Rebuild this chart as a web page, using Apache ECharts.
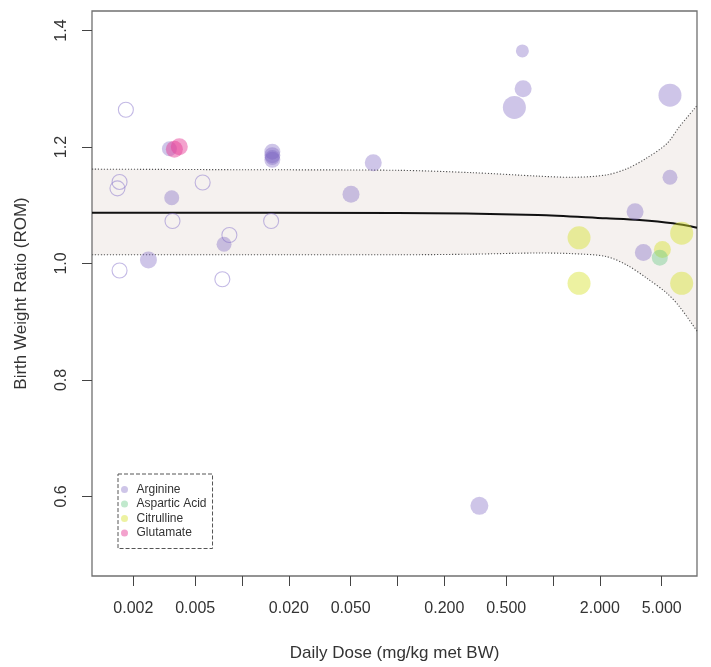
<!DOCTYPE html>
<html><head><meta charset="utf-8">
<script src="https://cdn.jsdelivr.net/npm/echarts@6/dist/echarts.min.js"></script>
<style>html,body{margin:0;padding:0;background:#fff}#c{width:711px;height:667px}</style>
</head><body><div id="c"></div>
<script>
// ---- tick marks / labels ----
const xTicks = [0.002, 0.005, 0.01, 0.02, 0.05, 0.1, 0.2, 0.5, 1, 2, 5];
const xTickLabels = [0.002, 0.005, 0.02, 0.05, 0.2, 0.5, 2, 5];
const yTicks = [0.6, 0.8, 1.0, 1.2, 1.4];

// ---- studies: [dose, ratio, weight] ----
const arginine = [
  [0.00341, 1.197, 15], [0.00353, 1.113, 15], [0.0025, 1.006, 17], [0.00766, 1.033, 15],
  [0.01566, 1.192, 16], [0.01566, 1.186, 16], [0.01566, 1.182, 15], [0.01566, 1.178, 16],
  [0.0502, 1.119, 17], [0.0698, 1.173, 17], [0.336, 0.584, 18], [0.564, 1.268, 23],
  [0.635, 1.365, 13], [0.642, 1.300, 17], [3.37, 1.089, 17], [3.81, 1.019, 17],
  [5.65, 1.289, 23], [5.65, 1.148, 15]
];
const arginineOpen = [
  [0.00179, 1.264, 15], [0.00163, 1.140, 15], [0.00158, 1.129, 15], [0.00558, 1.139, 15],
  [0.00357, 1.073, 15], [0.01538, 1.073, 15], [0.00829, 1.049, 15], [0.00163, 0.988, 15],
  [0.00747, 0.973, 15]
];
const asparticAcid = [[4.86, 1.010, 16]];
const citrulline = [[1.47, 1.044, 23], [1.47, 0.966, 23], [6.72, 1.052, 23], [6.72, 0.966, 23], [5.05, 1.024, 17]];
const glutamate = [[0.00367, 1.196, 17], [0.00395, 1.2005, 17]];

// ---- meta-regression fit and confidence band ----
const fitDose = [0.001084, 0.1, 0.8, 2.2, 3.6, 5.9, 8.43];
const fitRatio = [1.087, 1.0867, 1.0833, 1.0776, 1.0747, 1.069, 1.0615];
const bandDose = [0.001084, 0.01, 0.1, 0.3, 0.8, 1.3, 2.2, 3.0, 4.0, 5.4, 6.5, 8.43];
const upperCI = [1.162, 1.161, 1.160, 1.156, 1.150, 1.148, 1.152, 1.163, 1.181, 1.206, 1.235, 1.271];
const lowerCI = [1.015, 1.015, 1.015, 1.016, 1.018, 1.017, 1.012, 0.997, 0.975, 0.949, 0.926, 0.884];

const FONT = 'Liberation Sans, Arial, sans-serif';
const chart = echarts.init(document.getElementById('c'));
const pts = (arr) => arr.map(d => [d[0], d[1], d[2]]);
const scatter = (name, data, color, z) => ({
  name, type: 'scatter', data: pts(data), z: z,
  symbolSize: v => v[2],
  itemStyle: { color: color, borderWidth: 0 },
  emphasis: { disabled: true }
});
const SMOOTH = 0.3;
chart.setOption({
  animation: false,
  grid: { left: 92, right: 14, top: 11, bottom: 91, show: true, borderColor: '#707070', borderWidth: 1.3, backgroundColor: 'transparent' },
  legend: {
    data: ['Arginine', 'Aspartic Acid', 'Citrulline', 'Glutamate'],
    orient: 'vertical', left: 118, top: 474,
    padding: [9.5, 6, 9.5, 3], itemWidth: 14, itemHeight: 7, itemGap: 2.5,
    icon: 'circle', borderColor: '#555', borderWidth: 1, borderType: 'dashed',
    textStyle: { fontSize: 12, color: '#333', fontFamily: FONT },
    selectedMode: false
  },
  xAxis: {
    type: 'log', logBase: 10, min: 0.001084, max: 8.43,
    axisLine: { show: false }, splitLine: { show: false },
    axisTick: { show: true, customValues: xTicks, length: 10, lineStyle: { color: '#444', width: 1 } },
    axisLabel: { customValues: xTickLabels, formatter: v => Number(v).toFixed(3), fontSize: 16, color: '#333', margin: 25, fontFamily: FONT },
    name: 'Daily Dose (mg/kg met BW)', nameLocation: 'middle', nameGap: 69,
    nameTextStyle: { fontSize: 17, color: '#333', fontFamily: FONT }
  },
  yAxis: {
    type: 'value', min: 0.4635, max: 1.4335,
    axisLine: { show: false }, splitLine: { show: false },
    axisTick: { show: true, customValues: yTicks, length: 10, lineStyle: { color: '#444', width: 1 } },
    axisLabel: { customValues: yTicks, rotate: 90, formatter: v => Number(v).toFixed(1), fontSize: 16, color: '#333', margin: 22, fontFamily: FONT },
    name: 'Birth Weight Ratio (ROM)', nameLocation: 'middle', nameGap: 62,
    nameTextStyle: { fontSize: 17, color: '#333', fontFamily: FONT }
  },
  series: [
    { name: 'ciUpperFill', type: 'line', data: bandDose.map((d, i) => [d, upperCI[i]]),
      symbol: 'none', smooth: SMOOTH, lineStyle: { opacity: 0 },
      areaStyle: { color: '#f5f1ef', opacity: 1, origin: 'start' }, silent: true, z: -2 },
    { name: 'ciLowerFill', type: 'line', data: bandDose.map((d, i) => [d, lowerCI[i]]),
      symbol: 'none', smooth: SMOOTH, lineStyle: { opacity: 0 },
      areaStyle: { color: '#ffffff', opacity: 1, origin: 'start' }, silent: true, z: -1 },
    { name: 'upper', type: 'line', data: bandDose.map((d, i) => [d, upperCI[i]]),
      symbol: 'none', smooth: SMOOTH, lineStyle: { color: '#555', width: 1.1, type: [1.2, 1.8] }, silent: true, z: 2 },
    { name: 'lower', type: 'line', data: bandDose.map((d, i) => [d, lowerCI[i]]),
      symbol: 'none', smooth: SMOOTH, lineStyle: { color: '#555', width: 1.1, type: [1.2, 1.8] }, silent: true, z: 2 },
    { name: 'fit', type: 'line', data: fitDose.map((d, i) => [d, fitRatio[i]]),
      symbol: 'none', smooth: SMOOTH, lineStyle: { color: '#111', width: 2 }, silent: true, z: 3 },
    { name: 'excluded', type: 'scatter', data: pts(arginineOpen), z: 4, symbolSize: v => v[2],
      itemStyle: { color: 'rgba(255,255,255,0)', borderColor: 'rgba(140,120,205,0.65)', borderWidth: 1.1 }, emphasis: { disabled: true } },
    scatter('Arginine', arginine, 'rgba(120,95,190,0.45)', 5),
    scatter('Citrulline', citrulline, 'rgba(215,225,40,0.55)', 6),
    scatter('Aspartic Acid', asparticAcid, 'rgba(100,200,130,0.5)', 7),
    scatter('Glutamate', glutamate, 'rgba(230,60,150,0.6)', 8)
  ]
});
</script></body></html>
